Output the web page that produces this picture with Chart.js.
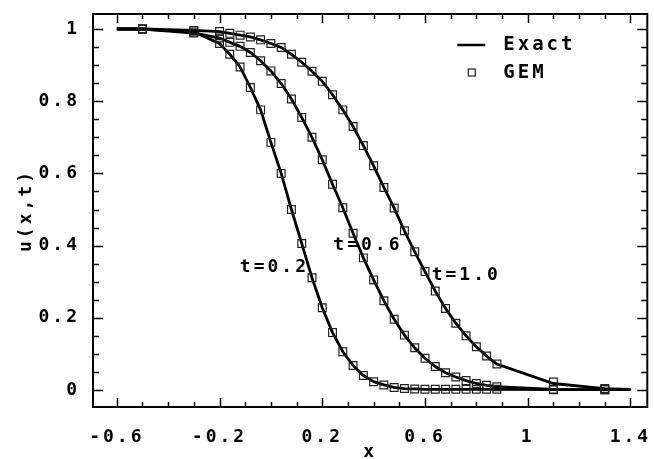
<!DOCTYPE html>
<html>
<head>
<meta charset="utf-8">
<script src="https://cdn.jsdelivr.net/npm/chart.js@4"></script>
<style>
    html, body { margin: 0; padding: 0; background: #fff; }
    #u-chart { display: block; }
</style>
</head>
<body>
<canvas id="u-chart" width="654" height="459"></canvas>
<script>
    // grid nodes of the GEM solution
    const xGem = [-0.5, -0.3, -0.2, -0.16, -0.12, -0.08, -0.04, 0, 0.04, 0.08, 0.12, 0.16, 0.2, 0.24, 0.28,
        0.32, 0.36, 0.4, 0.44, 0.48, 0.52, 0.56, 0.6, 0.64, 0.68, 0.72, 0.76, 0.8, 0.84, 0.88, 1.1, 1.3];
    const gemT02 = [1.0, 0.992, 0.96, 0.93, 0.895, 0.838, 0.776, 0.686, 0.6, 0.5, 0.406, 0.311, 0.228, 0.159, 0.106,
        0.068, 0.04, 0.023, 0.014, 0.007, 0.004, 0.003, 0.002, 0.002, 0.002, 0.002, 0.002, 0.002, 0.002, 0.002, 0.001, 0.001];
    const gemT06 = [1.0, 0.989, 0.975, 0.963, 0.952, 0.935, 0.912, 0.884, 0.849, 0.806, 0.755, 0.7, 0.638, 0.57, 0.505,
        0.434, 0.366, 0.305, 0.247, 0.196, 0.152, 0.117, 0.088, 0.065, 0.048, 0.036, 0.026, 0.018, 0.013, 0.009, 0.002, 0.001];
    const gemT10 = [1.0, 0.996, 0.993, 0.988, 0.983, 0.978, 0.97, 0.96, 0.949, 0.93, 0.908, 0.883, 0.855, 0.818, 0.776,
        0.73, 0.677, 0.621, 0.561, 0.504, 0.441, 0.383, 0.328, 0.274, 0.226, 0.185, 0.15, 0.12, 0.094, 0.072, 0.022, 0.004];

    // exact solution, same nodes plus the two ends
    const xExact = [-0.6, -0.5, -0.3, -0.2, -0.16, -0.12, -0.08, -0.04, 0, 0.04, 0.08, 0.12, 0.16, 0.2, 0.24, 0.28,
        0.32, 0.36, 0.4, 0.44, 0.48, 0.52, 0.56, 0.6, 0.64, 0.68, 0.72, 0.76, 0.8, 0.84, 0.88, 1.1, 1.3, 1.4];
    const exactT02 = [1.0, 1.0, 0.992, 0.96, 0.93, 0.895, 0.838, 0.776, 0.686, 0.6, 0.5, 0.406, 0.311, 0.228, 0.159, 0.106,
        0.068, 0.04, 0.023, 0.014, 0.007, 0.004, 0.003, 0.002, 0.002, 0.002, 0.002, 0.002, 0.002, 0.002, 0.002, 0.001, 0.001, 0.001];
    const exactT06 = [1.0, 1.0, 0.989, 0.975, 0.963, 0.952, 0.935, 0.912, 0.884, 0.849, 0.806, 0.755, 0.7, 0.638, 0.57, 0.505,
        0.434, 0.366, 0.305, 0.247, 0.196, 0.152, 0.117, 0.088, 0.065, 0.048, 0.036, 0.026, 0.018, 0.013, 0.009, 0.002, 0.001, 0.001];
    const exactT10 = [1.0, 1.0, 0.996, 0.993, 0.988, 0.983, 0.978, 0.97, 0.96, 0.949, 0.93, 0.908, 0.883, 0.855, 0.818, 0.776,
        0.73, 0.677, 0.621, 0.561, 0.504, 0.441, 0.383, 0.328, 0.274, 0.226, 0.185, 0.15, 0.12, 0.094, 0.072, 0.018, 0.004, 0.002];

    const curveNames = ['t=0.2', 't=0.6', 't=1.0'];
    const xTicks = [-0.6, -0.2, 0.2, 0.6, 1, 1.4];
    const xTickLabels = ['-0.6', '-0.2', '0.2', '0.6', '1', '1.4'];
    const yTicks = [0, 0.2, 0.4, 0.6, 0.8, 1];
    const yTickLabels = ['0', '0.2', '0.4', '0.6', '0.8', '1'];

    const FONT = 'DejaVu Sans Mono';
    const SPACING = '3px';

    const pts = (xs, ys) => xs.map((x, i) => ({ x: x, y: ys[i] }));

    function lineSet(ys) {
        return {
            data: pts(xExact, ys), showLine: true, borderColor: '#000', borderWidth: 2.8,
            pointRadius: 0, tension: 0, fill: false
        };
    }
    function gemSet(ys) {
        return {
            data: pts(xGem, ys), showLine: false, pointStyle: 'rect', pointRadius: 5.5,
            pointBorderColor: '#222', pointBorderWidth: 1.2, pointBackgroundColor: 'rgba(0,0,0,0)'
        };
    }

    // labels written next to the curves, in data units
    const notes = [
        { text: curveNames[0], x: -0.121, y: 0.341 },
        { text: curveNames[1], x: 0.243, y: 0.402 },
        { text: curveNames[2], x: 0.626, y: 0.319 }
    ];

    const spacingPlugin = {
        id: 'spacing',
        beforeUpdate(chart) { chart.ctx.letterSpacing = SPACING; },
        beforeDraw(chart) { chart.ctx.letterSpacing = SPACING; }
    };

    // frame with inward ticks on all four sides, legend and curve labels
    const framePlugin = {
        id: 'frame',
        afterDraw(chart) {
            const ctx = chart.ctx;
            const a = chart.chartArea;
            const sx = chart.scales.x, sy = chart.scales.y;
            ctx.save();
            ctx.strokeStyle = '#000';
            ctx.lineWidth = 2;
            ctx.strokeRect(a.left, a.top, a.right - a.left, a.bottom - a.top);

            ctx.lineWidth = 1.5;
            ctx.beginPath();
            for (let i = 0; i <= 20; i++) {
                const px = Math.round(sx.getPixelForValue(-0.6 + i * 0.1)) + 0.5;
                const len = i % 4 === 0 ? 9 : 5;
                ctx.moveTo(px, a.bottom); ctx.lineTo(px, a.bottom - len);
                ctx.moveTo(px, a.top); ctx.lineTo(px, a.top + len);
            }
            for (let i = 0; i <= 20; i++) {
                const py = Math.round(sy.getPixelForValue(i * 0.05)) + 0.5;
                const len = i % 4 === 0 ? 10 : 6;
                ctx.moveTo(a.left, py); ctx.lineTo(a.left + len, py);
                ctx.moveTo(a.right, py); ctx.lineTo(a.right - len, py);
            }
            ctx.stroke();

            ctx.fillStyle = '#000';
            ctx.font = 'bold 18px "' + FONT + '"';
            ctx.letterSpacing = SPACING;
            ctx.textBaseline = 'middle';
            ctx.textAlign = 'left';
            notes.forEach(n => {
                ctx.fillText(n.text, sx.getPixelForValue(n.x), sy.getPixelForValue(n.y));
            });

            // legend
            const lx = a.right - 190, ly = a.top + 31;
            ctx.lineWidth = 2.5;
            ctx.beginPath();
            ctx.moveTo(lx, ly); ctx.lineTo(lx + 28, ly);
            ctx.stroke();
            ctx.lineWidth = 1.2;
            ctx.strokeStyle = '#222';
            ctx.strokeRect(lx + 11, ly + 24, 7, 7);
            ctx.font = 'bold 19px "' + FONT + '"';
            ctx.fillText('Exact', lx + 46, ly);
            ctx.fillText('GEM', lx + 46, ly + 28);
            ctx.restore();
        }
    };

    const tickFont = { family: FONT, size: 18, weight: 'bold' };

    const chart = new Chart(document.getElementById('u-chart').getContext('2d'), {
        type: 'scatter',
        data: {
            datasets: [
                gemSet(gemT02), gemSet(gemT06), gemSet(gemT10),
                lineSet(exactT02), lineSet(exactT06), lineSet(exactT10)
            ]
        },
        options: {
            responsive: false,
            animation: false,
            layout: { padding: { left: 0, top: 14, right: 2, bottom: 0 } },
            plugins: { legend: { display: false }, tooltip: { enabled: false } },
            scales: {
                x: {
                    type: 'linear', min: -0.6927, max: 1.4656,
                    grid: { display: false, drawTicks: false },
                    border: { display: false },
                    afterBuildTicks: s => { s.ticks = xTicks.map(v => ({ value: v })); },
                    afterFit: s => { s.height = 52; s.paddingLeft = 0; s.paddingRight = 0; },
                    ticks: {
                        color: '#000', font: tickFont, padding: 20, maxRotation: 0, autoSkip: false,
                        callback: (v, i) => xTickLabels[i]
                    },
                    title: { display: true, text: 'x', color: '#000', font: tickFont, padding: { top: 0, bottom: -4 } }
                },
                y: {
                    type: 'linear', min: -0.0471, max: 1.0416,
                    grid: { display: false, drawTicks: false },
                    border: { display: false },
                    afterBuildTicks: s => { s.ticks = yTicks.map(v => ({ value: v })); },
                    afterFit: s => { s.width = 93; s.paddingTop = 0; s.paddingBottom = 0; },
                    ticks: {
                        color: '#000', font: tickFont, padding: 13, autoSkip: false,
                        callback: (v, i) => yTickLabels[i]
                    },
                    title: { display: true, text: 'u(x,t)', color: '#000', font: tickFont, padding: { top: 16, bottom: 0 } }
                }
            }
        },
        plugins: [spacingPlugin, framePlugin]
    });
</script>
</body>
</html>
